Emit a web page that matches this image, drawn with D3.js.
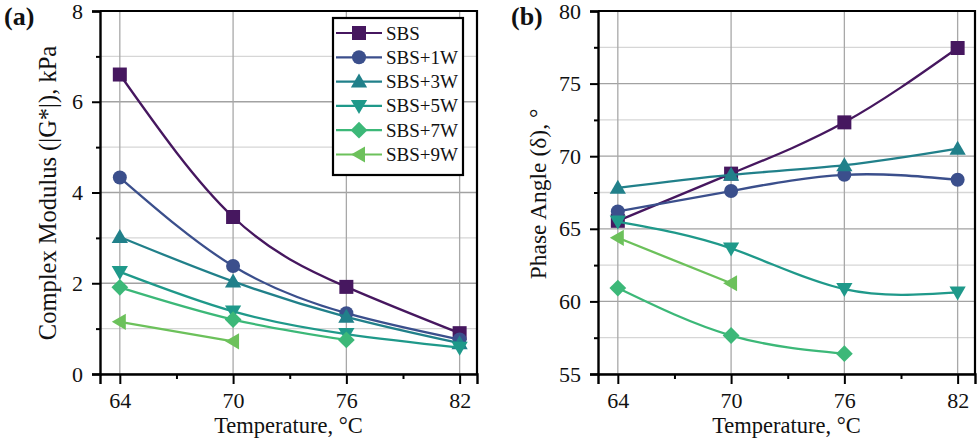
<!DOCTYPE html>
<html><head><meta charset="utf-8">
<script src="https://cdn.jsdelivr.net/npm/d3@7"></script>
<style>body{margin:0;background:#fff}svg{display:block}text{font-family:"Liberation Serif","Times New Roman",serif;fill:#111}</style>
</head><body>
<script>
const temperatures = [64, 70, 76, 82];
const seriesNames = ["SBS", "SBS+1W", "SBS+3W", "SBS+5W", "SBS+7W", "SBS+9W"];
const seriesColors = ["#46175f", "#3b4f8c", "#21808a", "#1f998a", "#3cb878", "#6cc15b"];
const seriesShapes = ["square", "circle", "triangleUp", "triangleDown", "diamond", "triangleLeft"];
// Panel (a) complex modulus |G*|, kPa
const modSBS  = [6.6, 3.46, 1.92, 0.9];
const mod1W   = [4.33, 2.38, 1.34, 0.76];
const mod3W   = [3.02, 2.04, 1.26, 0.68];
const mod5W   = [2.25, 1.38, 0.88, 0.58];
const mod7W   = [1.91, 1.2, 0.75, null];
const mod9W   = [1.15, 0.72, null, null];
// Panel (b) phase angle δ, °
const phSBS = [65.55, 68.8, 72.33, 77.45];
const ph1W  = [66.2, 67.6, 68.72, 68.38];
const ph3W  = [67.82, 68.72, 69.38, 70.52];
const ph5W  = [65.5, 63.65, 60.85, 60.62];
const ph7W  = [60.92, 57.65, 56.4, null];
const ph9W  = [64.38, 61.25, null, null];
const modTicks = [0, 2, 4, 6, 8];
const phTicks = [55, 60, 65, 70, 75, 80];

const W = 980, H = 441;
const svg = d3.select("body").append("svg").attr("width", W).attr("height", H);

function symbolPath(shape, size) {
  const s = size;
  switch (shape) {
    case "square": return `M${-s/2},${-s/2}h${s}v${s}h${-s}Z`;
    case "circle": return d3.symbol(d3.symbolCircle, Math.PI*(s/2)*(s/2))();
    case "triangleUp": { const h=s*0.95; return `M0,${-h*0.6}L${s*0.58},${h*0.45}L${-s*0.58},${h*0.45}Z`; }
    case "triangleDown": { const h=s*0.95; return `M0,${h*0.6}L${s*0.58},${-h*0.45}L${-s*0.58},${-h*0.45}Z`; }
    case "diamond": { const r=s*0.6; return `M0,${-r}L${r},0L0,${r}L${-r},0Z`; }
    case "triangleLeft": { const h=s*0.95; return `M${-h*0.6},0L${h*0.45},${s*0.58}L${h*0.45},${-s*0.58}Z`; }
  }
}
const markerSize = 14;

function drawPanel(opt) {
  const g = svg.append("g");
  const x = d3.scaleLinear().domain([62.95, 82.92]).range([opt.left, opt.right]);
  const y = d3.scaleLinear().domain(opt.yDomain).range([opt.bottom, opt.top]);
  const minorY = d3.range(opt.yDomain[0] + opt.yStep/2, opt.yDomain[1], opt.yStep);
  const minorX = [67, 73, 79];
  // grid
  g.selectAll(".gmy").data(minorY).join("line")
    .attr("x1", opt.left).attr("x2", opt.right).attr("y1", d=>y(d)).attr("y2", d=>y(d))
    .attr("stroke", "#d6d6d6").attr("stroke-width", 1.3);
  g.selectAll(".gy").data(opt.yTicks).join("line")
    .attr("x1", opt.left).attr("x2", opt.right).attr("y1", d=>y(d)).attr("y2", d=>y(d))
    .attr("stroke", "#a2a2a2").attr("stroke-width", 1.3);
  g.selectAll(".gx").data(temperatures).join("line")
    .attr("x1", d=>x(d)).attr("x2", d=>x(d)).attr("y1", opt.top).attr("y2", opt.bottom)
    .attr("stroke", "#a8a8a8").attr("stroke-width", 1.3);
  // frame top & right
  g.append("path").attr("d", `M${opt.left},${opt.top}H${opt.right}V${opt.bottom}`)
    .attr("fill", "none").attr("stroke", "#000").attr("stroke-width", 2.2);
  // axes
  const yAxis = d3.axisLeft(y).tickValues(opt.yTicks).tickSize(8).tickPadding(9).tickFormat(d3.format("d"));
  const ya = g.append("g").attr("transform", `translate(${opt.left},0)`).call(yAxis);
  const yMinor = d3.axisLeft(y).tickValues(minorY).tickSize(4).tickFormat("");
  const ym = g.append("g").attr("transform", `translate(${opt.left},0)`).call(yMinor);
  const xAxis = d3.axisBottom(x).tickValues(temperatures).tickSize(10).tickPadding(8).tickFormat(d3.format("d"));
  const xa = g.append("g").attr("transform", `translate(0,${opt.bottom})`).call(xAxis);
  const xMinor = d3.axisBottom(x).tickValues(minorX).tickSize(5).tickFormat("");
  const xm = g.append("g").attr("transform", `translate(0,${opt.bottom})`).call(xMinor);
  [ya, ym, xa, xm].forEach(a => {
    a.select(".domain").attr("stroke", "#000").attr("stroke-width", 2.4);
    a.selectAll(".tick line").attr("stroke", "#000").attr("stroke-width", 2);
    a.selectAll(".tick text").attr("font-size", 22).attr("font-family", "Liberation Serif").attr("fill", "#111");
  });
  ym.select(".domain").remove(); xm.select(".domain").remove();
  // series
  const line = d3.line().defined(d => d[1] != null).curve(d3.curveNatural)
    .x(d => x(d[0])).y(d => y(d[1]));
  opt.series.forEach((vals, i) => {
    const pts = temperatures.map((t, j) => [t, vals[j]]).filter(d => d[1] != null);
    g.append("path").datum(pts).attr("d", line).attr("fill", "none")
      .attr("stroke", seriesColors[i]).attr("stroke-width", 2.3);
    g.selectAll(null).data(pts).join("path")
      .attr("transform", d => `translate(${x(d[0])},${y(d[1])})`)
      .attr("d", symbolPath(seriesShapes[i], markerSize)).attr("fill", seriesColors[i]);
  });
  // titles
  g.append("text").attr("x", (opt.left + opt.right) / 2 + opt.xTitleDx).attr("y", 433)
    .attr("text-anchor", "middle").attr("font-size", 22.5).text("Temperature, °C");
  g.append("text").attr("transform", `translate(${opt.yTitleX},${opt.yTitleY}) rotate(-90)`)
    .attr("text-anchor", "middle").attr("font-size", opt.yTitleSize).text(opt.yTitle);
  g.append("text").attr("x", opt.labelX).attr("y", 25).attr("font-size", 26)
    .attr("font-weight", "bold").text(opt.label);
  return {x, y, g};
}

drawPanel({left: 100, right: 477, top: 11, bottom: 374, yDomain: [0, 8], yStep: 2, yTicks: modTicks,
  series: [modSBS, mod1W, mod3W, mod5W, mod7W, mod9W],
  yTitle: "Complex Modulus (|G*|), kPa", yTitleX: 56, yTitleY: 193, yTitleSize: 24.5, xTitleDx: 0, label: "(a)", labelX: 4});
drawPanel({left: 598, right: 975, top: 11, bottom: 374, yDomain: [55, 80], yStep: 5, yTicks: phTicks,
  series: [phSBS, ph1W, ph3W, ph5W, ph7W, ph9W],
  yTitle: "Phase Angle (δ), °", yTitleX: 546, yTitleY: 194, yTitleSize: 23.5, xTitleDx: 0, label: "(b)", labelX: 511});

// legend
const leg = svg.append("g");
leg.append("rect").attr("x", 333).attr("y", 18).attr("width", 130).attr("height", 157)
  .attr("fill", "#fff").attr("stroke", "#000").attr("stroke-width", 2.2);
seriesNames.forEach((name, i) => {
  const cy = 33 + i * 24.3;
  leg.append("line").attr("x1", 336).attr("x2", 382).attr("y1", cy).attr("y2", cy)
    .attr("stroke", seriesColors[i]).attr("stroke-width", 2.2);
  leg.append("path").attr("transform", `translate(359,${cy})`)
    .attr("d", symbolPath(seriesShapes[i], markerSize)).attr("fill", seriesColors[i]);
  leg.append("text").attr("x", 386).attr("y", cy + 6.5).attr("font-size", 19).text(name);
});
</script>
</body></html>
